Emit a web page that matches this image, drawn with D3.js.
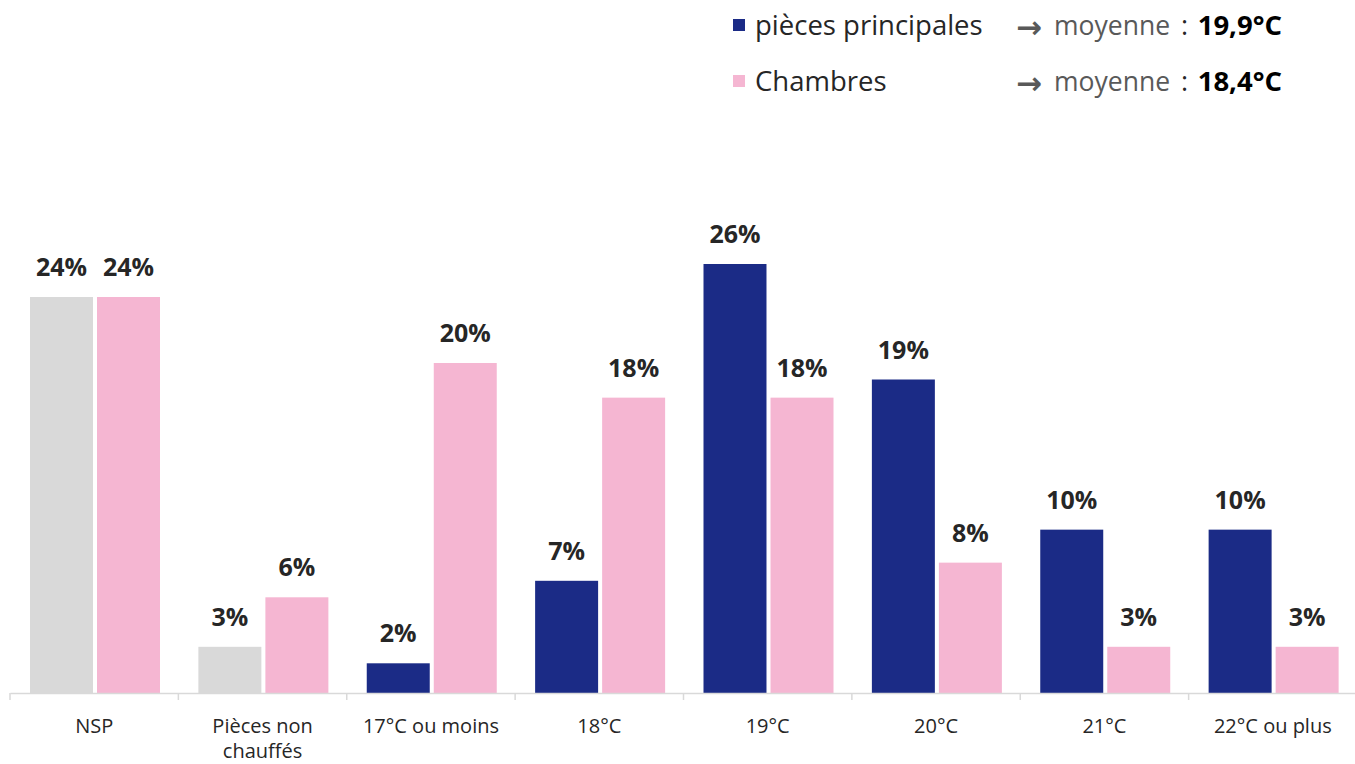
<!DOCTYPE html>
<html><head><meta charset="utf-8">
<script src="https://cdn.jsdelivr.net/npm/d3@7"></script>
<style>
body{margin:0;background:#fff;}
svg{display:block;font-family:"Open Sans",Lato,sans-serif;}
</style></head>
<body><svg id="c" width="1355" height="764"></svg>
<script>
const categories = ["NSP", "Pièces non\nchauffés", "17°C ou moins", "18°C", "19°C", "20°C", "21°C", "22°C ou plus"];
const piecesPrincipales = [24, 2.8, 1.8, 6.8, 26, 19, 9.9, 9.9];
const chambres = [24, 5.8, 20, 17.9, 17.9, 7.9, 2.8, 2.8];
const seriesNames = ["pièces principales", "Chambres"];
const moyennes = ["19,9°C", "18,4°C"];
const greyCategories = ["NSP", "Pièces non\nchauffés"];

const BLUE = "#1B2B86", PINK = "#F5B6D2", GREY = "#D9D9D9";
const svg = d3.select("#c");
const baseY = 693;

const x0 = d3.scaleBand().domain(categories).range([10, 1357]).paddingInner(0).paddingOuter(0);
const x1 = d3.scaleBand().domain([0, 1]).range([20, 150]).paddingInner(0.06).paddingOuter(0);
const y = d3.scaleLinear().domain([0, 26]).range([baseY, 264]);

const rows = categories.map((c, i) => ({c, vals: [piecesPrincipales[i], chambres[i]]}));

const g = svg.selectAll("g.cat").data(rows).join("g").attr("class", "cat")
  .attr("transform", d => `translate(${x0(d.c)},0)`);

g.selectAll("rect").data(d => d.vals.map((v, k) => ({v, k, c: d.c}))).join("rect")
  .attr("x", d => x1(d.k)).attr("width", x1.bandwidth())
  .attr("y", d => y(d.v)).attr("height", d => baseY - y(d.v))
  .attr("fill", d => d.k === 1 ? PINK : (greyCategories.includes(d.c) ? GREY : BLUE));

g.selectAll("text.val").data(d => d.vals.map((v, k) => ({v, k}))).join("text").attr("class", "val")
  .attr("x", d => x1(d.k) + x1.bandwidth() / 2).attr("y", d => y(d.v) - 21)
  .attr("text-anchor", "middle").attr("font-size", 25).attr("font-weight", "bold").attr("fill", "#262626")
  .text(d => Math.round(d.v) + "%");

// axis
const ax = svg.append("g").attr("transform", `translate(0,${baseY})`)
  .call(d3.axisBottom(x0).tickSize(0).tickFormat(""));
ax.select(".domain").attr("stroke", "#D9D9D9").attr("stroke-width", 1.5);
const bounds = categories.map(c => x0(c)).concat([x0(categories[categories.length - 1]) + x0.bandwidth()]);
svg.selectAll("line.tk").data(bounds).join("line").attr("class", "tk")
  .attr("x1", d => d).attr("x2", d => d).attr("y1", baseY).attr("y2", baseY + 7)
  .attr("stroke", "#D9D9D9").attr("stroke-width", 1.5);

svg.selectAll("text.cat").data(categories).join("text").attr("class", "cat")
  .attr("x", d => x0(d) + x0.bandwidth() / 2).attr("y", 733)
  .attr("text-anchor", "middle").attr("font-size", 20).attr("fill", "#262626")
  .each(function(d) {
    const lines = d.split("\n");
    d3.select(this).selectAll("tspan").data(lines).join("tspan")
      .attr("x", x0(d) + x0.bandwidth() / 2).attr("dy", (l, i) => i === 0 ? 0 : 25).text(l => l);
  });

// legend
const legY = [26, 82];
const lg = svg.selectAll("g.leg").data(seriesNames).join("g").attr("class", "leg")
  .attr("transform", (d, i) => `translate(0,${legY[i]})`);
lg.append("rect").attr("x", 733).attr("y", -7).attr("width", 12).attr("height", 12)
  .attr("fill", (d, i) => i === 0 ? BLUE : PINK);
lg.append("text").attr("x", 755).attr("y", 9).attr("font-size", 27.5).attr("fill", "#262626").text(d => d);
lg.append("text").attr("x", 1016).attr("y", 12).attr("font-size", 31).attr("font-family", "DejaVu Sans")
  .attr("font-weight", "bold").attr("fill", "#595959").text("→");
lg.append("text").attr("x", 1282).attr("y", 9).attr("text-anchor", "end").attr("font-size", 27.5)
  .attr("font-weight", "bold").attr("fill", "#000").text((d, i) => moyennes[i]);
lg.append("text").attr("x", 1054).attr("y", 9).attr("font-size", 26.5)
  .attr("fill", "#595959").text("moyenne");
lg.append("text").attr("x", 1181).attr("y", 9).attr("font-size", 27)
  .attr("fill", "#262626").text(":");
</script></body></html>
